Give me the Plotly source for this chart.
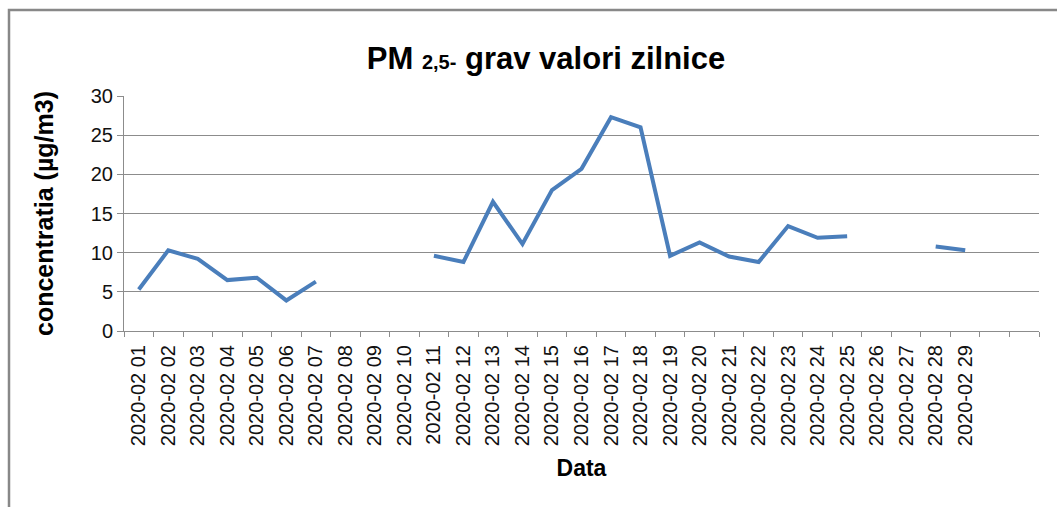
import plotly.graph_objects as go

days = [f"2020-02 {d:02d}" for d in range(1, 30)]
extra_categories = [" ", "  "]
values = [5.3, 10.3, 9.2, 6.5, 6.8, 3.9, 6.3, None, None, None,
          9.6, 8.8, 16.5, 11.1, 18.0, 20.7, 27.3, 26.0, 9.6, 11.3,
          9.5, 8.8, 13.4, 11.9, 12.1, None, None, 10.8, 10.3]
y_ticks = [0, 5, 10, 15, 20, 25, 30]

title_main = "PM"
title_sub = "2,5-"
title_rest = "grav valori zilnice"
y_title = "concentratia (µg/m3)"
x_title = "Data"

FONT = "Liberation Sans, Arial, sans-serif"
GRID = "#8c8c8c"

fig = go.Figure()
fig.add_trace(go.Scatter(
    x=days, y=values, mode="lines",
    line=dict(color="#4A7EBB", width=4),
    connectgaps=False, hoverinfo="x+y",
))

fig.update_layout(
    width=1057, height=507,
    margin=dict(l=124, r=18, t=96, b=176, autoexpand=False),
    paper_bgcolor="white", plot_bgcolor="white",
    showlegend=False,
    font=dict(family=FONT, color="#111"),
    title=dict(
        text=f"<b>{title_main} <span style='font-size:20px'>{title_sub}</span> {title_rest}</b>",
        x=546/1057, xanchor="center", xref="container",
        y=1-58/507, yanchor="middle", yref="container",
        font=dict(size=31, family=FONT, color="#000"),
    ),
    xaxis=dict(
        type="category",
        categoryorder="array", categoryarray=days + extra_categories,
        range=[-0.5, len(days) + len(extra_categories) - 0.5],
        tickson="boundaries", ticks="outside", ticklen=5, tickcolor=GRID,
        showline=True, linecolor=GRID, linewidth=1,
        showgrid=False, tickangle=-90, ticklabelstandoff=5,
        tickfont=dict(size=20, family=FONT, color="#111"),
        title=dict(text=f"<b>{x_title}</b>", font=dict(size=23, family=FONT, color="#000"), standoff=14),
        fixedrange=True,
    ),
    yaxis=dict(
        range=[0, 30], tickvals=y_ticks,
        ticks="outside", ticklen=6, tickcolor=GRID,
        showline=True, linecolor=GRID, linewidth=1,
        showgrid=True, gridcolor=GRID, gridwidth=1,
        zeroline=False,
        tickfont=dict(size=20, family=FONT, color="#111"),
        title=dict(text=f"<b>{y_title}</b>", font=dict(size=25, family=FONT, color="#000"), standoff=30),
        fixedrange=True,
    ),
)

# outer chart frame (partially outside the view, as in the reference)
fig.add_shape(type="rect", xref="paper", yref="paper",
              x0=(9-124)/915, x1=(1070-124)/915,
              y0=(331-520)/235, y1=(331-10)/235,
              line=dict(color="#888888", width=2.5), layer="below")

fig.write_html("out.html", config={"displayModeBar": False},
               post_script="document.body.style.margin='0px';")
